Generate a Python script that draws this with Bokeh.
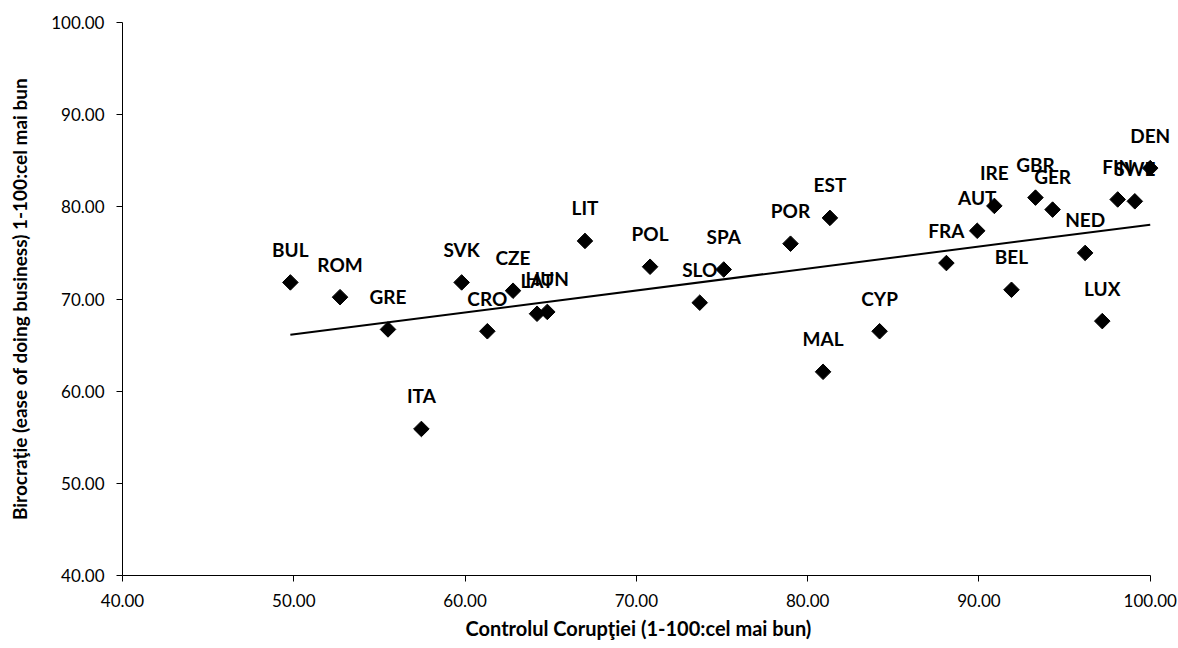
import numpy as np
from bokeh.plotting import figure
from bokeh.models import ColumnDataSource, LabelSet, Range1d, FixedTicker, PrintfTickFormatter, Title
from bokeh.core.properties import value
from bokeh.embed import file_html
from bokeh.resources import INLINE

countries = ["BUL", "ROM", "GRE", "ITA", "SVK", "CRO", "CZE", "LAT", "HUN", "LIT",
             "POL", "SLO", "SPA", "POR", "MAL", "EST", "CYP", "FRA", "AUT", "IRE",
             "BEL", "GBR", "GER", "NED", "LUX", "FIN", "SWE", "DEN"]
control_corruptiei = [49.8, 52.7, 55.5, 57.45, 59.8, 61.3, 62.8, 64.2, 64.8, 67.0,
                      70.8, 73.7, 75.1, 79.0, 80.9, 81.3, 84.2, 88.1, 89.9, 90.9,
                      91.9, 93.3, 94.3, 96.2, 97.2, 98.1, 99.1, 100.0]
birocratie = [71.8, 70.2, 66.7, 55.9, 71.8, 66.5, 70.9, 68.4, 68.6, 76.3,
              73.5, 69.6, 73.2, 76.0, 62.1, 78.8, 66.5, 73.9, 77.4, 80.1,
              71.0, 81.0, 79.7, 75.0, 67.6, 80.8, 80.6, 84.2]
x_ticks = [40, 50, 60, 70, 80, 90, 100]
y_ticks = [40, 50, 60, 70, 80, 90, 100]
x_title = "Controlul Corupţiei (1-100:cel mai bun)"
y_title = "Birocraţie (ease of doing business) 1-100:cel mai bun"

FONT = "Lato"

p = figure(width=1178, height=648, output_backend="svg", toolbar_location=None,
           x_range=Range1d(40, 101.3), y_range=Range1d(40, 100),
           min_border_left=122, min_border_right=6, min_border_top=22, min_border_bottom=73)
p.outline_line_color = None
p.grid.visible = False
p.background_fill_color = "white"
p.border_fill_color = "white"

for ax in (p.xaxis[0], p.yaxis[0]):
    ax.axis_line_color = "black"
    ax.axis_line_width = 1
    ax.major_tick_line_color = "black"
    ax.major_tick_out = 6
    ax.major_tick_in = 0
    ax.minor_tick_out = 0
    ax.minor_tick_in = 0
    ax.major_label_text_font = FONT
    ax.major_label_text_font_size = "17px"
    ax.major_label_text_color = "black"
    ax.axis_label_text_font = FONT
    ax.axis_label_text_font_size = "19px"
    ax.axis_label_text_font_style = "bold"
    ax.axis_label_text_color = "black"
    ax.formatter = PrintfTickFormatter(format="%.2f")

p.xaxis.bounds = (40, 100)
p.xaxis.ticker = FixedTicker(ticks=x_ticks)
p.yaxis.ticker = FixedTicker(ticks=y_ticks)
p.yaxis.axis_label = y_title
p.xaxis.major_label_standoff = 12
p.yaxis.major_label_standoff = 12
p.yaxis.axis_label_standoff = 17

# x-axis title as a Title below, so it can be centred on the 40..100 span
p.add_layout(Title(text=x_title, align="left", offset=343, text_font=FONT,
                   text_font_size="20px", text_font_style="bold", text_color="black",
                   standoff=8), "below")

src = ColumnDataSource(dict(x=control_corruptiei, y=birocratie, name=countries))

# linear trend line (least squares), drawn over the data range
xs = np.array(control_corruptiei)
ys = np.array(birocratie)
slope, intercept = np.polyfit(xs, ys, 1)
tx = [xs.min(), xs.max()]
ty = [slope * v + intercept for v in tx]
p.line(tx, ty, line_color="black", line_width=2)

p.scatter("x", "y", source=src, marker="square", angle=np.pi / 4, size=11,
          fill_color="black", line_color="black")

labels = LabelSet(x="x", y="y", text="name", source=src, text_align="center",
                  text_baseline="middle", y_offset=33, text_font=value(FONT),
                  text_font_size="19px", text_font_style="bold", text_color="black")
p.add_layout(labels)

open("out.html", "w").write(file_html(p, INLINE))
